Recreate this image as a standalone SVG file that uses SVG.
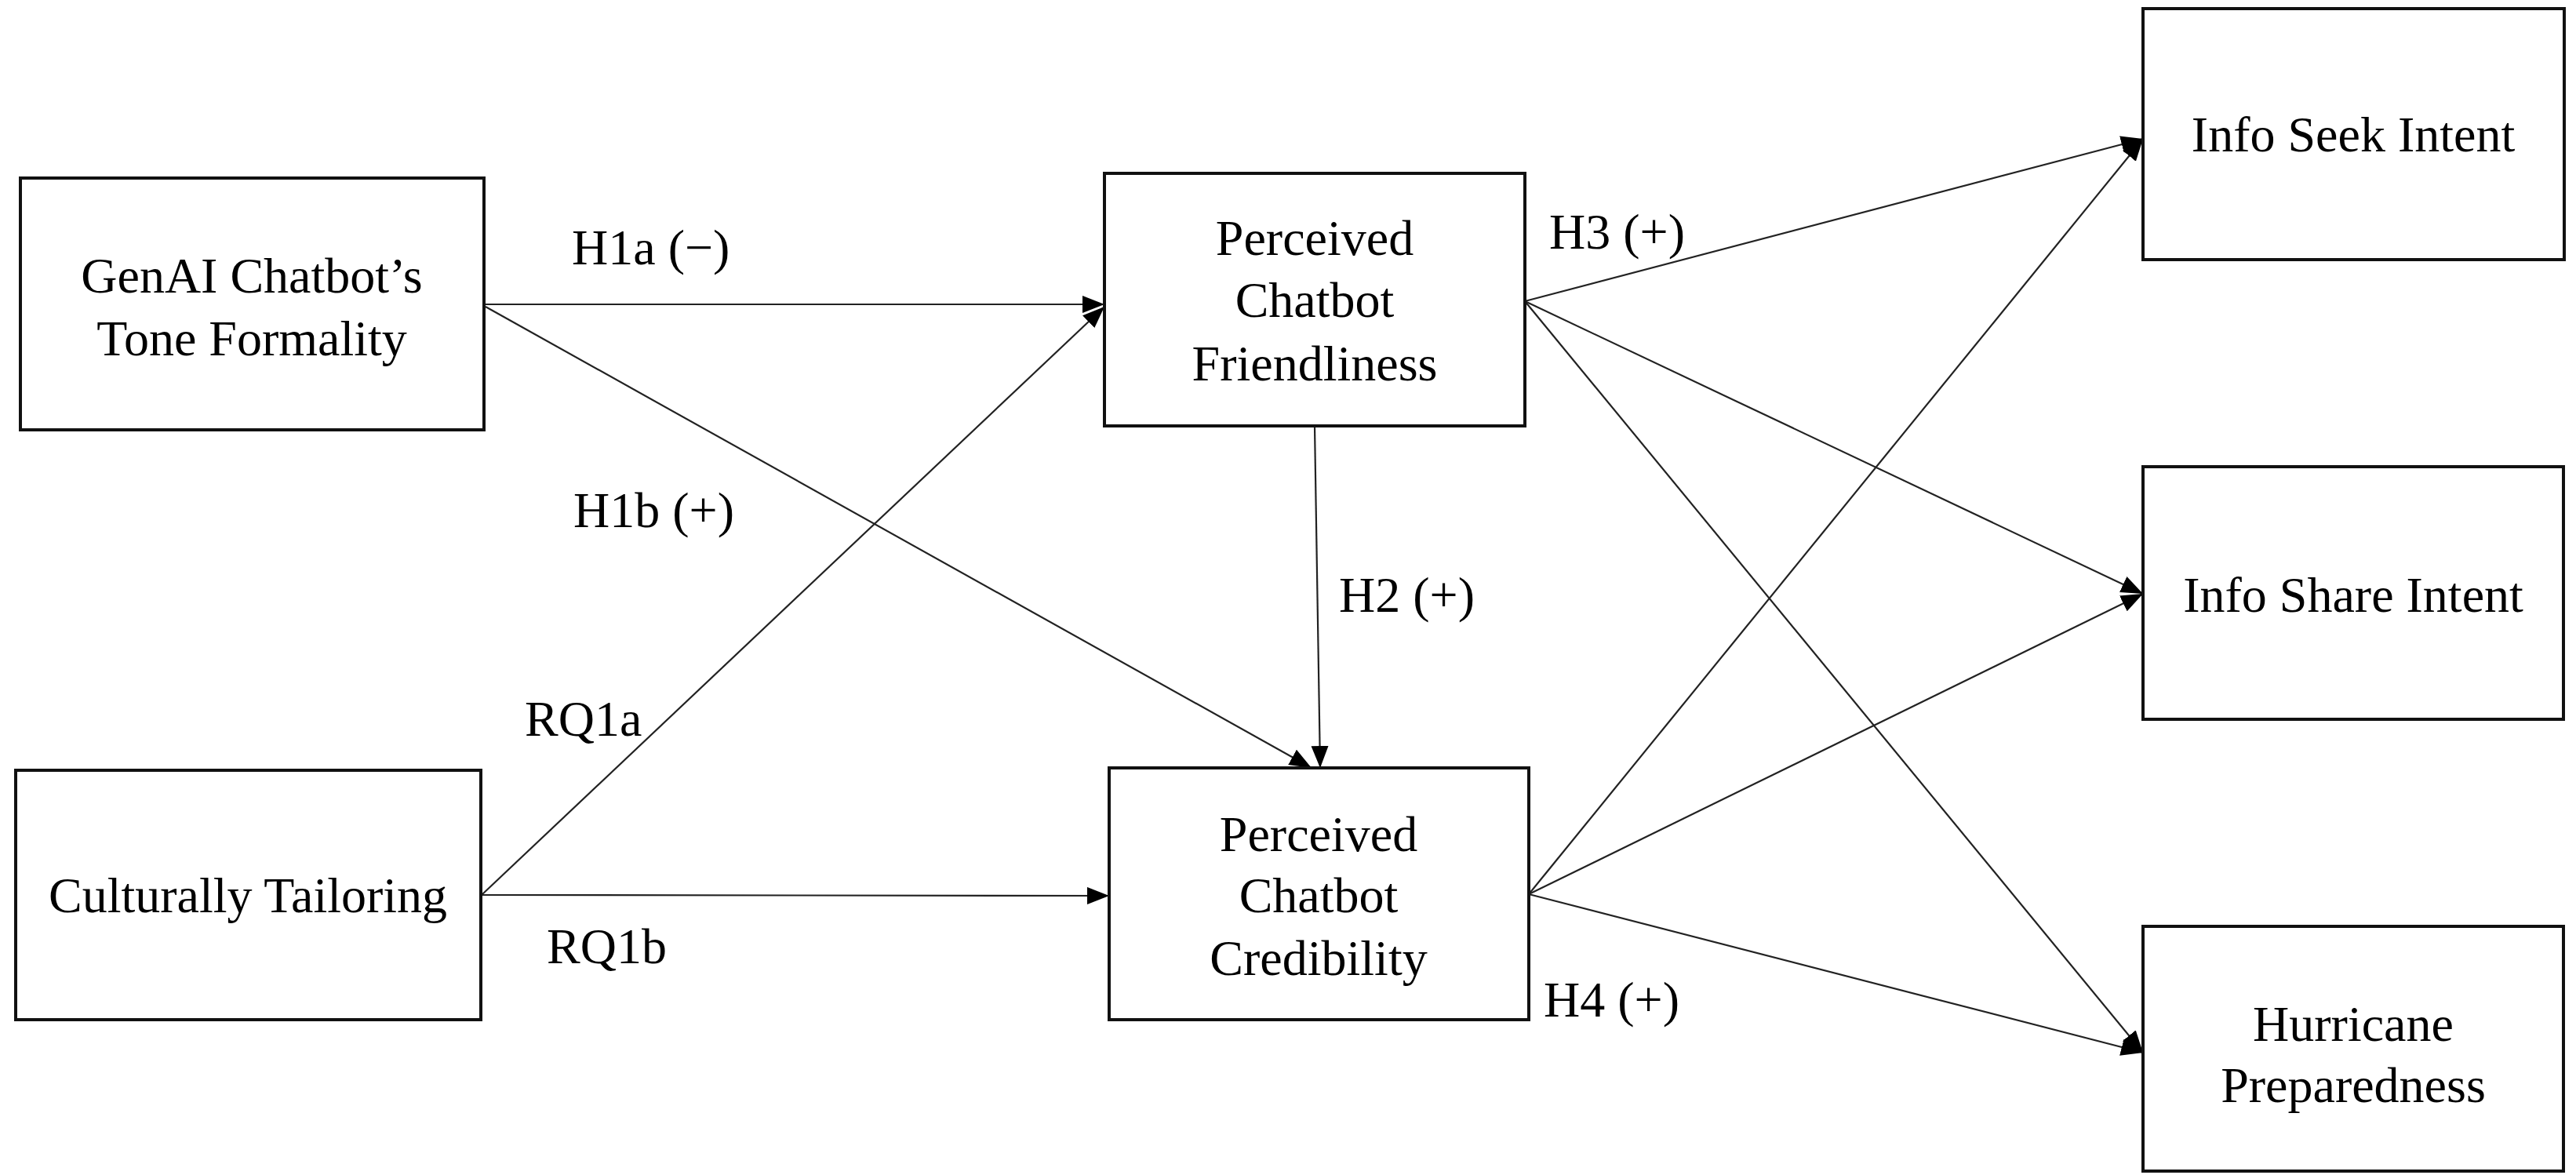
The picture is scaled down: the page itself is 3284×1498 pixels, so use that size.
<svg xmlns="http://www.w3.org/2000/svg" width="3284" height="1498" viewBox="0 0 3284 1498">
<style>
.box{fill:#fff;stroke:#111;stroke-width:4}
.t{font-family:"Liberation Serif","Times New Roman",serif;font-size:64px;fill:#000}
.c{text-anchor:middle}
.e{fill:none;stroke:#222;stroke-width:2.2}
</style>
<defs>
<marker id="ah" markerUnits="userSpaceOnUse" markerWidth="30" markerHeight="24" refX="28" refY="11" orient="auto">
<path d="M0,0 L28,11 L0,22 z" fill="#000"/>
</marker>
</defs>
<rect width="3284" height="1498" fill="#fff"/>
<g id="connectors">
<line class="e" x1="617" y1="388" x2="1408" y2="388" marker-end="url(#ah)"/>
<line class="e" x1="619" y1="391" x2="1672" y2="979" marker-end="url(#ah)"/>
<line class="e" x1="615" y1="1140" x2="1408" y2="391" marker-end="url(#ah)"/>
<line class="e" x1="613" y1="1141" x2="1414" y2="1142" marker-end="url(#ah)"/>
<line class="e" x1="1676" y1="543" x2="1683" y2="979" marker-end="url(#ah)"/>
<line class="e" x1="1944" y1="384" x2="2732" y2="177" marker-end="url(#ah)"/>
<line class="e" x1="1944" y1="384" x2="2732" y2="757" marker-end="url(#ah)"/>
<line class="e" x1="1944" y1="384" x2="2732" y2="1342" marker-end="url(#ah)"/>
<line class="e" x1="1949" y1="1140" x2="2732" y2="177" marker-end="url(#ah)"/>
<line class="e" x1="1949" y1="1140" x2="2732" y2="757" marker-end="url(#ah)"/>
<line class="e" x1="1949" y1="1140" x2="2732" y2="1342" marker-end="url(#ah)"/>
<text class="t" x="729" y="337">H1a (−)</text>
<text class="t" x="731" y="672">H1b (+)</text>
<text class="t" x="669" y="938">RQ1a</text>
<text class="t" x="697" y="1228">RQ1b</text>
<text class="t" x="1707" y="780">H2 (+)</text>
<text class="t" x="1975" y="317">H3 (+)</text>
<text class="t" x="1968" y="1296">H4 (+)</text>
</g>
<g id="genai">
<rect class="box" x="26" y="227" width="591" height="321"/>
<text class="t c" x="321" y="373">GenAI Chatbot’s</text>
<text class="t c" x="321" y="453">Tone Formality</text>
</g>
<g id="cultural">
<rect class="box" x="20" y="982" width="593" height="318"/>
<text class="t c" x="316" y="1163">Culturally Tailoring</text>
</g>
<g id="friendliness">
<rect class="box" x="1408" y="221" width="536" height="322"/>
<text class="t c" x="1676" y="325">Perceived</text>
<text class="t c" x="1676" y="404">Chatbot</text>
<text class="t c" x="1676" y="485">Friendliness</text>
</g>
<g id="credibility">
<rect class="box" x="1414" y="979" width="535" height="321"/>
<text class="t c" x="1681" y="1085">Perceived</text>
<text class="t c" x="1681" y="1163">Chatbot</text>
<text class="t c" x="1681" y="1243">Credibility</text>
</g>
<g id="seek">
<rect class="box" x="2732" y="11" width="537" height="320"/>
<text class="t c" x="3000" y="193">Info Seek Intent</text>
</g>
<g id="share">
<rect class="box" x="2732" y="595" width="536" height="322"/>
<text class="t c" x="3000" y="780">Info Share Intent</text>
</g>
<g id="hurricane">
<rect class="box" x="2732" y="1181" width="536" height="312"/>
<text class="t c" x="3000" y="1327">Hurricane</text>
<text class="t c" x="3000" y="1405">Preparedness</text>
</g>
</svg>
